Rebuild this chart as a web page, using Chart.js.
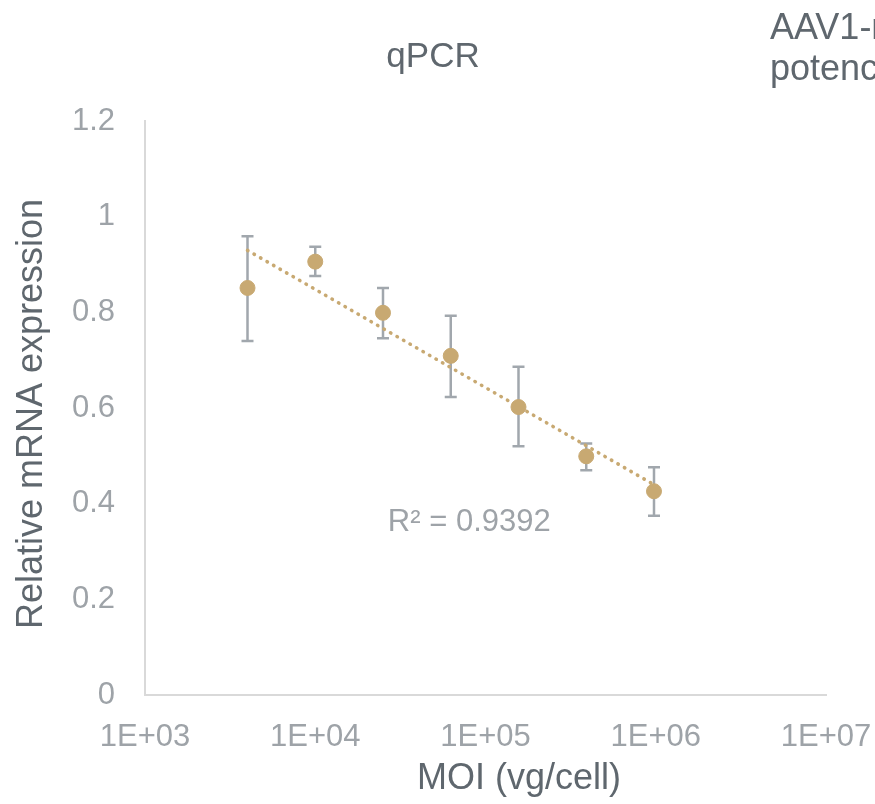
<!DOCTYPE html>
<html>
<head>
<meta charset="utf-8">
<title>qPCR</title>
<script src="https://cdn.jsdelivr.net/npm/chart.js@4/dist/chart.umd.min.js"></script>
<style>
  html, body { margin: 0; padding: 0; background: #fff; overflow: hidden; }
  canvas { display: block; }
</style>
</head>
<body>
<canvas id="myChart" width="875" height="804"></canvas>
<script>
// ── Data ──────────────────────────────────────────────────────────────────────
var moi       = [4000, 10000, 25000, 62500, 156250, 390625, 976562];
var expr      = [0.851, 0.906, 0.799, 0.709, 0.602, 0.499, 0.426];
var errUp     = [0.108, 0.031, 0.052, 0.084, 0.084, 0.027, 0.050];
var errDown   = [0.111, 0.030, 0.053, 0.086, 0.082, 0.029, 0.051];
var xTicks    = [1e3, 1e4, 1e5, 1e6, 1e7];
var yTicks    = [0, 0.2, 0.4, 0.6, 0.8, 1, 1.2];
var r2Text    = 'R² = 0.9392';
var r2Anchor  = { x: 26700, y: 0.36 };

var GOLD   = '#c8a972';
var BAR    = '#a1a7ad';
var DARK   = '#5f676e';
var LIGHT  = '#9ea3a8';
var FONT   = '"Liberation Sans", Arial, sans-serif';

// ── Log trendline (least squares on log10 x) ─────────────────────────────────
function logFit(xs, ys) {
  var n = xs.length, sx = 0, sy = 0, sxx = 0, sxy = 0;
  for (var i = 0; i < n; i++) {
    var lx = Math.log10(xs[i]);
    sx += lx; sy += ys[i]; sxx += lx * lx; sxy += lx * ys[i];
  }
  var slope = (n * sxy - sx * sy) / (n * sxx - sx * sx);
  return { slope: slope, icpt: (sy - slope * sx) / n };
}
var fit = logFit(moi, expr);
var trend = [moi[0], moi[moi.length - 1]].map(function (x) {
  return { x: x, y: fit.icpt + fit.slope * Math.log10(x) };
});

// ── Error bars, drawn under the points ───────────────────────────────────────
var errorBars = {
  id: 'errorBars',
  beforeDatasetsDraw: function (chart) {
    var xs = chart.scales.x, ys = chart.scales.y, ctx = chart.ctx;
    ctx.save();
    ctx.strokeStyle = BAR;
    ctx.lineWidth = 2.5;
    for (var i = 0; i < moi.length; i++) {
      var px = xs.getPixelForValue(moi[i]);
      var top = ys.getPixelForValue(expr[i] + errUp[i]);
      var bot = ys.getPixelForValue(expr[i] - errDown[i]);
      ctx.beginPath();
      ctx.moveTo(px, top); ctx.lineTo(px, bot);
      ctx.moveTo(px - 6, top); ctx.lineTo(px + 6, top);
      ctx.moveTo(px - 6, bot); ctx.lineTo(px + 6, bot);
      ctx.stroke();
    }
    ctx.restore();
  }
};

// ── Titles and the R² label ──────────────────────────────────────────────────
var labels = {
  id: 'labels',
  afterDraw: function (chart) {
    var ctx = chart.ctx, xs = chart.scales.x, ys = chart.scales.y;
    ctx.save();
    ctx.textBaseline = 'alphabetic';
    ctx.fillStyle = DARK;

    ctx.font = '35px ' + FONT;
    ctx.textAlign = 'center';
    ctx.fillText('qPCR', 433, 67);

    // neighbouring panel title, cut off at the right edge
    ctx.font = '36px ' + FONT;
    ctx.textAlign = 'left';
    ctx.fillText('AAV1-mediated', 770, 39);
    ctx.fillText('potency', 770, 80);

    ctx.textAlign = 'center';
    ctx.fillText('MOI (vg/cell)', 519, 789);

    ctx.save();
    ctx.translate(42, 414);
    ctx.rotate(-Math.PI / 2);
    ctx.fillText('Relative mRNA expression', 0, 0);
    ctx.restore();

    ctx.fillStyle = LIGHT;
    ctx.font = '31px ' + FONT;
    ctx.textAlign = 'left';
    ctx.textBaseline = 'middle';
    ctx.fillText(r2Text, xs.getPixelForValue(r2Anchor.x), ys.getPixelForValue(r2Anchor.y));
    ctx.restore();
  }
};

function sciLabel(v) {
  var e = Math.round(Math.log10(v));
  return '1E+' + (e < 10 ? '0' : '') + e;
}

var ctx = document.getElementById('myChart').getContext('2d');
var myChart = new Chart(ctx, {
  type: 'scatter',
  data: {
    datasets: [
      {
        label: 'Linear trend',
        type: 'line',
        data: trend,
        borderColor: GOLD,
        borderWidth: 3.5,
        borderDash: [0.5, 7],
        borderCapStyle: 'round',
        pointRadius: 0,
        fill: false,
        order: 0
      },
      {
        label: 'qPCR',
        data: moi.map(function (x, i) { return { x: x, y: expr[i] }; }),
        backgroundColor: GOLD,
        borderColor: GOLD,
        pointRadius: 7.5,
        pointHoverRadius: 7.5,
        order: 1
      }
    ]
  },
  options: {
    responsive: false,
    animation: false,
    layout: { padding: { left: 0, top: 121, right: 49, bottom: 0 } },
    plugins: {
      legend: { display: false },
      tooltip: { enabled: false },
      title: { display: false }
    },
    scales: {
      x: {
        type: 'logarithmic',
        min: 1e3,
        max: 1e7,
        afterBuildTicks: function (axis) {
          axis.ticks = xTicks.map(function (v) { return { value: v }; });
        },
        afterFit: function (axis) {
          axis.height = 109;
          axis.paddingLeft = 0;
          axis.paddingRight = 0;
        },
        grid: { display: false, drawTicks: false },
        border: { color: '#d9d9d9', width: 2 },
        ticks: {
          autoSkip: false,
          maxRotation: 0,
          padding: 24,
          color: LIGHT,
          font: { family: FONT, size: 31 },
          callback: function (v) { return sciLabel(v); }
        }
      },
      y: {
        min: 0,
        max: 1.2,
        afterBuildTicks: function (axis) {
          axis.ticks = yTicks.map(function (v) { return { value: v }; });
        },
        afterFit: function (axis) {
          axis.width = 145;
          axis.paddingTop = 0;
          axis.paddingBottom = 0;
        },
        grid: { display: false, drawTicks: false },
        border: { color: '#d9d9d9', width: 2 },
        ticks: {
          padding: 30,
          color: LIGHT,
          font: { family: FONT, size: 31 },
          callback: function (v) { return String(Math.round(v * 10) / 10); }
        }
      }
    }
  },
  plugins: [errorBars, labels]
});
</script>
</body>
</html>
